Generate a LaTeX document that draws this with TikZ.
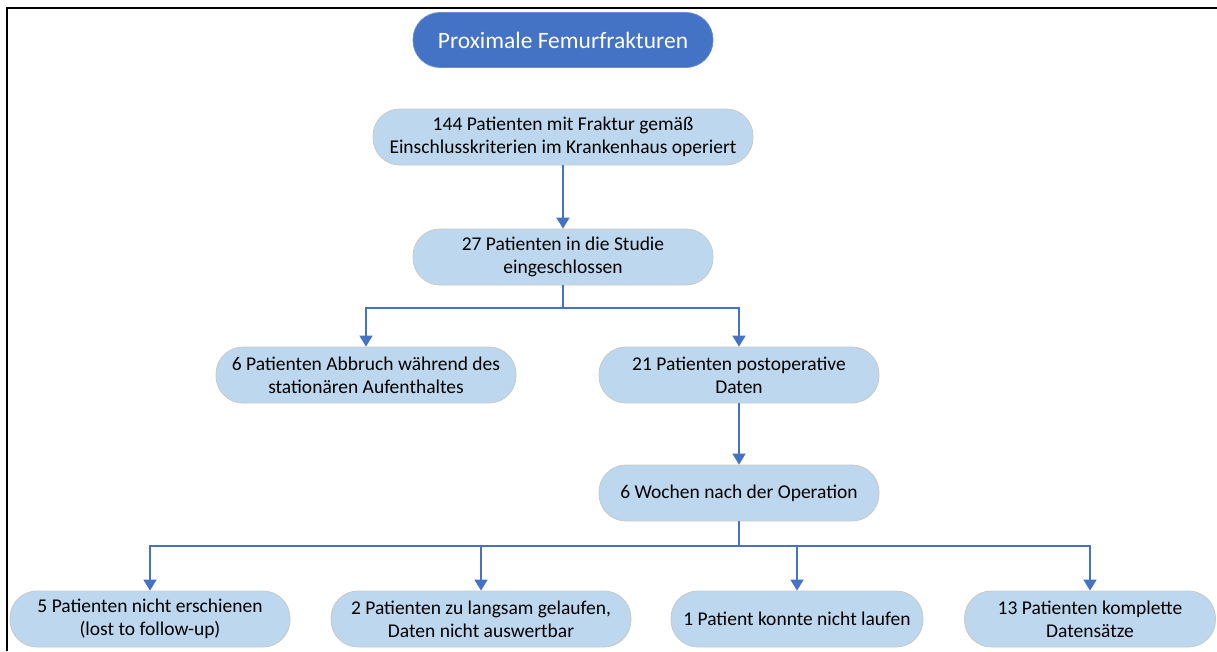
\documentclass[tikz,border=0pt]{standalone}
\usepackage{fontspec}
\setmainfont{Carlito}
\usetikzlibrary{arrows.meta}
\definecolor{dblue}{HTML}{4472C4}
\definecolor{lblue}{HTML}{BDD7EE}
\definecolor{edgegray}{HTML}{C9C9C9}
\begin{document}
\begin{tikzpicture}[x=1pt,y=-1pt,
  box/.style={draw=edgegray,line width=0.8pt,fill=lblue,rounded corners=27pt,
    minimum height=56pt,align=center,inner sep=0pt,
    font=\fontsize{19.5}{23}\selectfont,text=black},
  titlebox/.style={draw=dblue!80!white,line width=0.8pt,fill=dblue,rounded corners=27pt,
    minimum height=55pt,minimum width=300pt,align=center,inner sep=0pt,
    font=\fontsize{23.5}{26}\selectfont,text=white},
  conn/.style={draw=dblue,line width=1.5pt},
  arr/.style={conn,-{Triangle[width=13pt,length=11pt]}}]
\useasboundingbox (0,0) rectangle (1217,651);
\draw[line width=2pt] (7,651) -- (7,8) -- (1217,8);
\node[titlebox] (t) at (563,40) {Proximale Femurfrakturen};
\node[box,minimum width=380pt] (a) at (563,137) {144 Patienten mit Fraktur gemäß\\Einschlusskriterien im Krankenhaus operiert};
\node[box,minimum width=300pt] (b) at (563,257) {27 Patienten in die Studie\\eingeschlossen};
\node[box,minimum width=300pt] (c) at (366,375) {6 Patienten Abbruch während des\\stationären Aufenthaltes};
\node[box,minimum width=280pt] (d) at (739,375) {21 Patienten postoperative\\Daten};
\node[box,minimum width=280pt] (e) at (739,493) {6 Wochen nach der Operation};
\node[box,minimum width=280pt] (f1) at (150,619) {5 Patienten nicht erschienen\\(lost to follow-up)};
\node[box,minimum width=300pt] (f2) at (481,619) {2 Patienten zu langsam gelaufen,\\Daten nicht auswertbar};
\node[box,minimum width=252pt] (f3) at (797,619) {1 Patient konnte nicht laufen};
\node[box,minimum width=251pt] (f4) at (1090,619) {13 Patienten komplette\\Datensätze};
\coordinate (bus1) at (563,308);
\coordinate (bus2) at (739,546);
\draw[arr] (a) -- (b);
\draw[conn] (b) -- (bus1);
\draw[arr] (bus1) -| (c);
\draw[arr] (bus1) -| (d);
\draw[arr] (d) -- (e);
\draw[conn] (e) -- (bus2);
\draw[arr] (bus2) -| (f1);
\draw[arr] (bus2) -| (f2);
\draw[arr] (bus2) -| (f3);
\draw[arr] (bus2) -| (f4);
\end{tikzpicture}
\end{document}
